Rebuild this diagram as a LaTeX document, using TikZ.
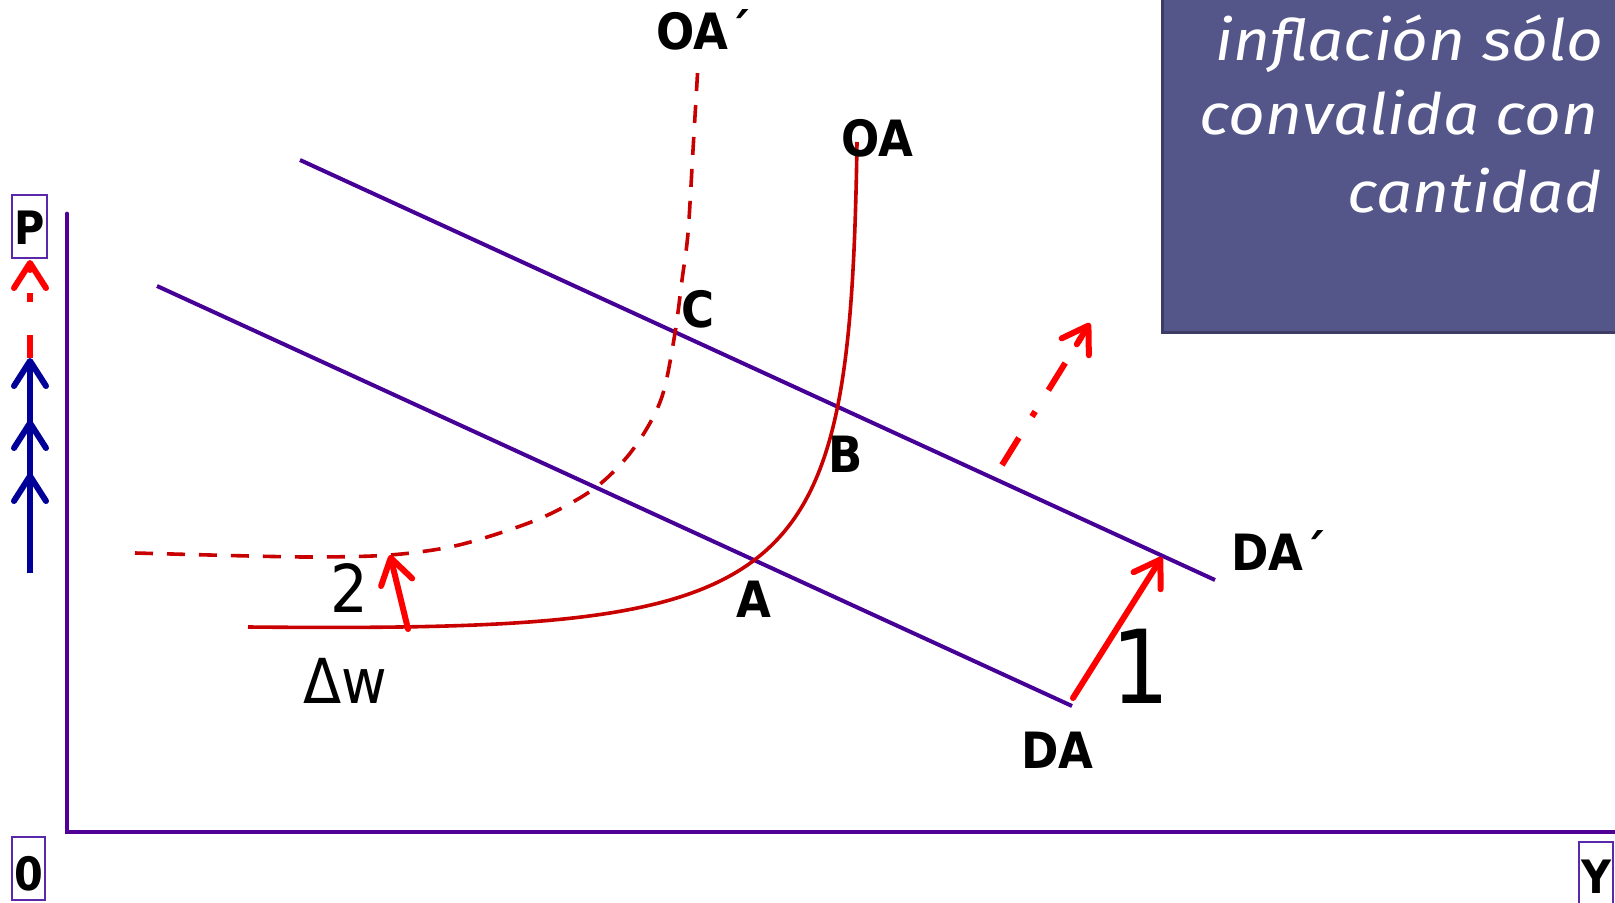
\documentclass[tikz,border=0pt]{standalone}
\usepackage{fontspec}
\setmainfont{DejaVu Sans}
\newfontfamily\labfont{DejaVu Sans Condensed}
\newfontfamily\boxfont[FakeStretch=1.12]{Fira Sans}
\usetikzlibrary{arrows.meta,calc}
\definecolor{axiscol}{RGB}{80,0,150}
\definecolor{dacol}{RGB}{70,0,150}
\definecolor{oacol}{RGB}{200,0,0}
\definecolor{boxfill}{RGB}{84,86,138}
\definecolor{boxedge}{RGB}{60,60,100}
\definecolor{arrblue}{RGB}{0,0,153}
\definecolor{framecol}{RGB}{90,40,170}
\begin{document}
\begin{tikzpicture}[x=0.5pt,y=-0.5pt,
  axis/.style={draw=axiscol, line width=2.4pt, line cap=round},
  dline/.style={draw=dacol, line width=2pt},
  oacurve/.style={draw=oacol, line width=1.8pt},
  oadash/.style={oacurve, dash pattern=on 9pt off 7pt},
  barb/.style={-{Straight Barb[length=12.5pt,width=16pt,line cap=round,line join=round]}},
  redarrow/.style={draw=red, line width=3pt, line cap=round, barb},
  bluearrow/.style={draw=arrblue, line width=3pt, barb},
  boldlab/.style={inner sep=0pt, anchor=base west, font=\labfont\bfseries\fontsize{25}{30}\selectfont},
  axlab/.style={inner sep=0pt, anchor=base, font=\labfont\bfseries\fontsize{23}{28}\selectfont},
  numlab/.style={inner sep=0pt, anchor=base west, font=\labfont},
  framebox/.style={draw=framecol, line width=1pt},
  boxtext/.style={inner sep=0pt, anchor=base east, text=white, font=\boxfont\itshape\fontsize{28.5}{34}\selectfont}
]
\useasboundingbox (0,0) rectangle (1615,903);
% text box
\path[fill=boxfill, draw=boxedge, line width=1.5pt] (1162,-5) rectangle (1625,333);
\node[boxtext] (t1) at (1604,61) {inflación sólo};
\node[boxtext] (t2) at (1599,135) {convalida con};
\node[boxtext] (t3) at (1602,213) {cantidad};
% axes
\coordinate (ytop) at (67,214);
\coordinate (orig) at (67,832);
\coordinate (xend) at (1625,832);
\draw[axis] (ytop) -- (orig) -- (xend);
% axis labels
\draw[framebox] (12,195) rectangle (47,258);
\node[axlab] (P) at (29.5,245) {P};
\draw[framebox] (12,837) rectangle (45,900);
\node[axlab] (O) at (28.5,890) {0};
\draw[framebox] (1579,842) rectangle (1613,910);
\node[axlab] (Y) at (1596,893) {Y};
% left arrows
\coordinate (b0) at (30,573);
\coordinate (b1) at (30,358);
\coordinate (b2) at (30,420);
\coordinate (b3) at (30,473);
\draw[bluearrow] (b0) -- (b1);
\draw[bluearrow] (b0) -- (b2);
\draw[bluearrow] (b0) -- (b3);
\coordinate (r0) at (30,358);
\coordinate (r1) at (30,260);
\coordinate (r2) at (30,270);
\draw[red, line width=3pt, dash pattern=on 11.5pt off 16.5pt on 4.5pt off 40pt] (r0) -- (r1);
\draw[redarrow] (r2) -- (r1);
% DA lines
\coordinate (da1) at (157,286);
\coordinate (da2) at (1072,706);
\coordinate (dap1) at (300,160);
\coordinate (dap2) at (1215,580);
\draw[dline] (da1) -- (da2);
\draw[dline] (dap1) -- (dap2);
% OA curve
\coordinate (oa0) at (248,627);
\coordinate (oa1) at (857,142);
\draw[oacurve] (oa0) .. controls (800,632) and (850,600) .. (oa1);
% OA' dashed curve
\draw[oadash] plot[smooth, tension=0.55] coordinates {(135,553) (250,556) (320,557) (390,555) (450,547) (503,532) (550,514) (595,488) (627,457) (650,423) (664,390) (675,333) (682,280) (688,233) (693,150) (698,65)};
% red arrows
\coordinate (a2s) at (408,629);
\coordinate (a2e) at (390,555);
\draw[redarrow] (a2s) -- (a2e);
\coordinate (a1s) at (1073,698);
\coordinate (a1e) at (1162,557);
\draw[redarrow] (a1s) -- (a1e);
\coordinate (a3s) at (1002,465);
\coordinate (a3e) at (1090,323);
\draw[red, line width=3pt, dash pattern=on 16pt off 12.5pt on 3pt off 12.5pt] (a3s) -- ($(a3s)!0.9!(a3e)$);
\draw[redarrow] ($(a3s)!0.85!(a3e)$) -- (a3e);
% labels
\node[boldlab] (lOAp) at (656,50) {OA´};
\node[boldlab] (lOA) at (841,157) {OA};
\node[boldlab] (lC) at (681,328) {C};
\node[boldlab] (lB) at (828,472) {B};
\node[boldlab] (lA) at (736,617) {A};
\node[boldlab] (lDA) at (1021,768) {DA};
\node[boldlab] (lDAp) at (1231,570) {DA´};
\node[numlab, font=\labfont\fontsize{33}{40}\selectfont] (n2) at (330,612) {2};
\node[numlab, font=\labfont\fontsize{31}{38}\selectfont] (dw) at (303,703) {Δw};
\node[numlab, anchor=base, font=\labfont\fontsize{51}{60}\selectfont] (n1) at (1141,703) {1};
\end{tikzpicture}
\end{document}
